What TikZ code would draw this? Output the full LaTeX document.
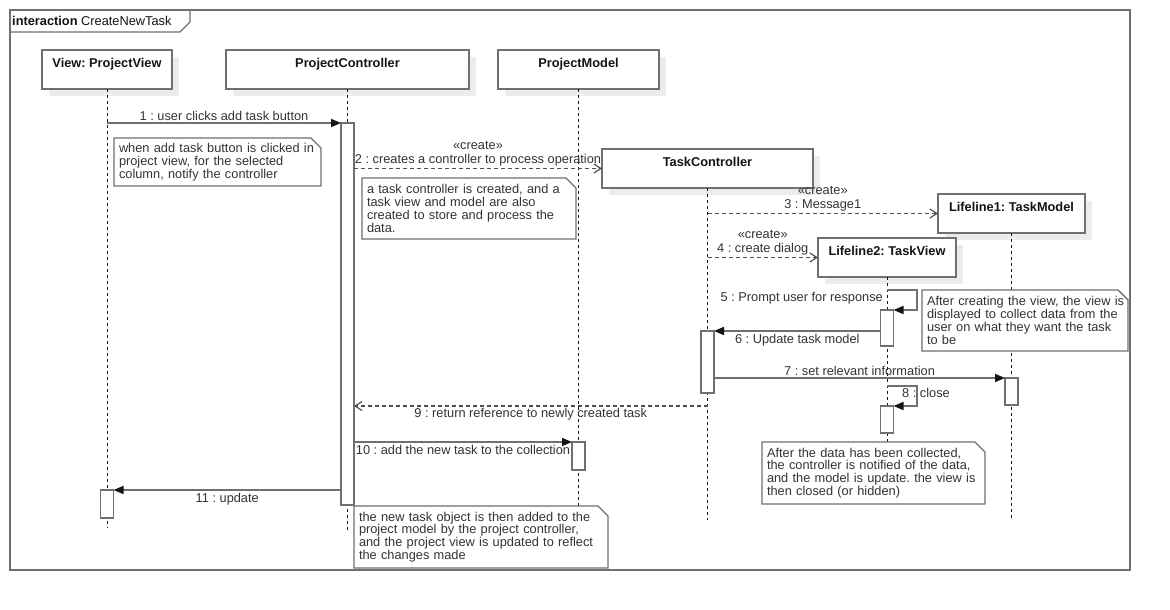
\documentclass[tikz,border=0pt]{standalone}
\usepackage{fontspec}
\setmainfont{Liberation Sans}
\usetikzlibrary{arrows.meta,shadows,calc}
\frenchspacing

\definecolor{boxgray}{RGB}{112,112,112}
\definecolor{msggray}{RGB}{112,112,112}
\definecolor{dashgray}{RGB}{80,80,80}
\definecolor{txtgray}{RGB}{51,51,51}
\definecolor{shadowgray}{RGB}{236,236,236}
\definecolor{inkblack}{RGB}{20,20,20}

\tikzset{
  head/.style={draw=boxgray, line width=1.4pt, fill=white, anchor=north west,
    minimum height=39pt, inner xsep=4pt, inner ysep=4.5pt, outer sep=0pt,
    text height=12.5pt, text depth=17.5pt,
    font=\fontsize{12.8pt}{12.8pt}\selectfont\bfseries, text=inkblack,
    general shadow={fill=shadowgray, shadow xshift=7pt, shadow yshift=-7pt}},
  act/.style={draw=boxgray, line width=1.4pt, fill=white, minimum width=13pt,
    inner sep=0pt, outer sep=0pt, anchor=north},
  lifeline/.style={draw=inkblack, line width=0.9pt, dash pattern=on 3pt off 3pt},
  msg/.style={draw=msggray, line width=1.6pt,
    -{Triangle[length=10pt,width=8pt,color=inkblack]}},
  ret/.style={draw=dashgray, line width=1.2pt, dash pattern=on 4pt off 3pt,
    -{Straight Barb[length=7pt,width=9pt,color=dashgray,line width=1.2pt]}},
  lbl/.style={font=\fontsize{12.8pt}{14pt}\selectfont, text=txtgray, inner sep=2pt, align=center},
  note/.style={fill=white, anchor=north west, inner xsep=5pt, inner ysep=0pt, outer sep=0pt,
    align=left, font=\fontsize{12.8pt}{12.8pt}\selectfont, text=txtgray},
  noteline/.style={draw=boxgray, line width=1.4pt, line join=miter},
}

% outline of a UML note with a cut top-right corner
\newcommand{\foldnote}[1]{%
  \draw[noteline] ([xshift=-10pt]#1.north east) -- (#1.north west) -- (#1.south west)
    -- (#1.south east) -- ([yshift=-10pt]#1.north east) -- cycle;}

\begin{document}
\begin{tikzpicture}[x=1pt,y=-1pt]
\fill[white] (0,0) rectangle (1170,610);
\useasboundingbox (0,0) rectangle (1170,610);

% interaction frame
\node[draw=boxgray, line width=1.5pt, anchor=north west, minimum width=1120pt,
  minimum height=560pt, inner sep=0pt, outer sep=0pt] (frame) at (10,10) {};
\draw[boxgray, line width=1.4pt] ($(frame.north west)+(180,0)$) -- ++(0,12) -- ++(-10,10)
  -- ($(frame.north west)+(0,22)$);
\node[anchor=west, inner sep=0pt, font=\fontsize{12.8pt}{12.8pt}\selectfont, text=inkblack]
  (flabel) at (12,21) {\textbf{interaction} CreateNewTask};

% lifeline heads
\node[head, minimum width=130pt] (pv) at (42,50) {View: ProjectView};
\node[head, minimum width=243pt] (pc) at (226,50) {ProjectController};
\node[head, minimum width=161pt] (pm) at (498,50) {ProjectModel};
\node[head, minimum width=211pt] (tc) at (602,149) {TaskController};
\node[head, minimum width=147pt] (tm) at (938,194) {Lifeline1: TaskModel};
\node[head, minimum width=138pt] (tv) at (818,238) {Lifeline2: TaskView};

% lifeline ends
\coordinate (pvend) at (pv.south |- 0,528);
\coordinate (pcend) at (pc.south |- 0,531);
\coordinate (pmend) at (pm.south |- 0,506);
\coordinate (tcend) at (tc.south |- 0,520);
\coordinate (tmend) at (tm.south |- 0,519);
\coordinate (tvend) at (tv.south |- 0,442);

% lifelines
\draw[lifeline] (pv.south) -- (pvend);
\draw[lifeline] (pc.south) -- (pcend);
\draw[lifeline] (pm.south) -- (pmend);
\draw[lifeline] (tc.south) -- (tcend);
\draw[lifeline] (tm.south) -- (tmend);
\draw[lifeline] (tv.south) -- (tvend);

% notes
\node[note, minimum height=48pt, text width=197pt] (noteA) at (114,138)
  {\mbox{when add task button is clicked in}\\\mbox{project view, for the selected}\\\mbox{column, notify the controller}};
\node[note, minimum height=61pt, text width=204pt] (noteB) at (362,178)
  {\mbox{a task controller is created, and a}\\\mbox{task view and model are also}\\\mbox{created to store and process the}\\\mbox{data.}};
\node[note, minimum height=61pt, text width=196pt] (noteC) at (922,290)
  {\mbox{After creating the view, the view is}\\\mbox{displayed to collect data from the}\\\mbox{user on what they want the task}\\\mbox{to be}};
\node[note, minimum height=62pt, text width=213pt] (noteD) at (762,442)
  {\mbox{After the data has been collected,}\\\mbox{the controller is notified of the data,}\\\mbox{and the model is update. the view is}\\\mbox{then closed (or hidden)}};
\node[note, minimum height=62pt, text width=244pt] (noteE) at (354,506)
  {\mbox{the new task object is then added to the}\\\mbox{project model by the project controller,}\\\mbox{and the project view is updated to reflect}\\\mbox{the changes made}};
\foldnote{noteA}
\foldnote{noteB}
\foldnote{noteC}
\foldnote{noteD}
\foldnote{noteE}

% activation bars
\node[act, minimum height=382pt] (pcact) at (pc.south |- 0,123) {};
\node[act, minimum height=28pt] (pvact) at (pv.south |- 0,490) {};
\node[act, minimum height=28pt] (pmact) at (pm.south |- 0,442) {};
\node[act, minimum height=62pt] (tcact) at (tc.south |- 0,331) {};
\node[act, minimum height=36pt] (tvacta) at (tv.south |- 0,310) {};
\node[act, minimum height=27pt] (tvactb) at (tv.south |- 0,406) {};
\node[act, minimum height=27pt] (tmact) at (tm.south |- 0,378) {};

% messages
\draw[msg] (pv.south |- pcact.north) -- (pcact.north west)
  node[lbl, midway, above] {1 : user clicks add task button};
\draw[ret] (pcact.east |- tc.west) -- (tc.west)
  node[lbl, midway, above] {«create»\\2 : creates a controller to process operation};
\draw[ret] (tc.south |- tm.west) -- (tm.west)
  node[lbl, midway, above] {«create»\\3 : Message1};
\draw[ret] (tc.south |- tv.west) -- (tv.west)
  node[lbl, midway, above] {«create»\\4 : create dialog};
\draw[msg] ($(tv.south |- tvacta.north)+(0,-20)$) coordinate (selfa)
  -- ++(30,0) -- ++(0,20) -- (tvacta.north east);
\node[lbl, anchor=north east] (lblfive) at ($(selfa)+(-2,0)$) {5 : Prompt user for response};
\draw[msg] (tvacta.west |- tcact.north) -- (tcact.north east)
  node[lbl, midway, below] {6 : Update task model};
\draw[msg] (tcact.east |- tmact.north) -- (tmact.north west)
  node[lbl, midway, above] {7 : set relevant information};
\draw[msg] ($(tv.south |- tvactb.north)+(0,-20)$) coordinate (selfb)
  -- ++(30,0) -- ++(0,20) -- (tvactb.north east);
\node[lbl, anchor=north west] (lbleight) at ($(selfb)+(13,0)$) {8 : close};
\draw[ret] (tc.south |- tvactb.north) -- (pcact.east |- tvactb.north)
  node[lbl, midway, below] {9 : return reference to newly created task};
\draw[msg] (pcact.east |- pmact.north) -- (pmact.north west)
  node[lbl, midway, below] {10 : add the new task to the collection};
\draw[msg] (pcact.west |- pvact.north) -- (pvact.north east)
  node[lbl, midway, below] {11 : update};
\end{tikzpicture}
\end{document}
